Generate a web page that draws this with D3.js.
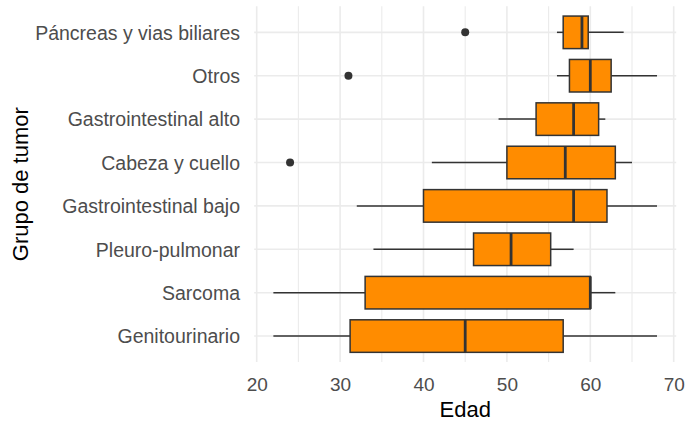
<!DOCTYPE html>
<html>
<head>
<meta charset="utf-8">
<script src="https://cdn.jsdelivr.net/npm/d3@7"></script>
<style>
  html, body { margin: 0; padding: 0; background: #fff; }
  svg { display: block; font-family: "Liberation Sans", Arial, sans-serif; }
</style>
</head>
<body>
<svg id="chart" width="688" height="427"></svg>
<script>
// Tumour groups, listed top to bottom
const groups = [
  "Páncreas y vias biliares",
  "Otros",
  "Gastrointestinal alto",
  "Cabeza y cuello",
  "Gastrointestinal bajo",
  "Pleuro-pulmonar",
  "Sarcoma",
  "Genitourinario"
];
// Box-plot statistics of age per group (same order as groups)
const lowerWhisker = [56, 56, 49, 41, 32, 34, 22, 22];
const q1           = [56.75, 57.5, 53.5, 50, 40, 46, 33, 31.2];
const medianAge    = [59, 60, 58, 57, 58, 50.5, 60, 45];
const q3           = [59.75, 62.5, 61, 63, 62, 55.25, 60, 56.75];
const upperWhisker = [64, 68, 61.8, 65, 68, 58, 63, 68];
// Outlying ages
const outlierGroup = ["Páncreas y vias biliares", "Otros", "Cabeza y cuello"];
const outlierAge   = [45, 31, 24];
// Axis ticks
const majorTicks = [20, 30, 40, 50, 60, 70];
const minorTicks = [25, 35, 45, 55, 65];

const boxes = groups.map((g, i) => ({
  group: g, lo: lowerWhisker[i], q1: q1[i], med: medianAge[i], q3: q3[i], hi: upperWhisker[i]
}));
const outliers = outlierGroup.map((g, i) => ({ group: g, value: outlierAge[i] }));

const svg = d3.select("#chart");
const panel = { left: 254.2, right: 676.2, top: 6.3, bottom: 362.1 };

// x domain: data range expanded by 5% on each side
const allVals = lowerWhisker.concat(upperWhisker, outlierAge);
const lo = d3.min(allVals), hi = d3.max(allVals), pad = (hi - lo) * 0.05;
const x = d3.scaleLinear().domain([lo - pad, hi + pad]).range([panel.left, panel.right]);
const y = d3.scalePoint().domain(groups).range([panel.top, panel.bottom]).padding(0.6);
const boxH = y.step() * 0.75;

const grid = svg.append("g").attr("stroke", "#EBEBEB").attr("fill", "none");
grid.selectAll("line.minor").data(minorTicks).join("line")
  .attr("class", "minor")
  .attr("x1", d => x(d)).attr("x2", d => x(d))
  .attr("y1", panel.top).attr("y2", panel.bottom)
  .attr("stroke-width", 1.1);
grid.selectAll("line.vmajor").data(majorTicks).join("line")
  .attr("class", "vmajor")
  .attr("x1", d => x(d)).attr("x2", d => x(d))
  .attr("y1", panel.top).attr("y2", panel.bottom)
  .attr("stroke-width", 1.6);
grid.selectAll("line.hmajor").data(groups).join("line")
  .attr("class", "hmajor")
  .attr("x1", panel.left).attr("x2", panel.right)
  .attr("y1", d => y(d)).attr("y2", d => y(d))
  .attr("stroke-width", 1.6);

const stroke = "#333333";
const bx = svg.append("g").selectAll("g").data(boxes).join("g");
// whiskers
bx.append("line")
  .attr("x1", d => x(d.lo)).attr("x2", d => x(d.q1))
  .attr("y1", d => y(d.group)).attr("y2", d => y(d.group))
  .attr("stroke", stroke).attr("stroke-width", 1.5);
bx.append("line")
  .attr("x1", d => x(d.q3)).attr("x2", d => x(d.hi))
  .attr("y1", d => y(d.group)).attr("y2", d => y(d.group))
  .attr("stroke", stroke).attr("stroke-width", 1.5);
// boxes
bx.append("rect")
  .attr("x", d => x(d.q1)).attr("width", d => x(d.q3) - x(d.q1))
  .attr("y", d => y(d.group) - boxH / 2).attr("height", boxH)
  .attr("fill", "#FF8C00").attr("stroke", stroke).attr("stroke-width", 1.5);
// medians
bx.append("line")
  .attr("x1", d => x(d.med)).attr("x2", d => x(d.med))
  .attr("y1", d => y(d.group) - boxH / 2).attr("y2", d => y(d.group) + boxH / 2)
  .attr("stroke", stroke).attr("stroke-width", 2.8);

// outliers
svg.append("g").selectAll("circle").data(outliers).join("circle")
  .attr("cx", d => x(d.value)).attr("cy", d => y(d.group))
  .attr("r", 4).attr("fill", stroke);

// axis labels
const axisX = d3.axisBottom(x).tickValues(majorTicks).tickSize(0).tickPadding(0);
const gx = svg.append("g").attr("transform", `translate(0,${panel.bottom})`).call(axisX);
gx.select(".domain").remove();
gx.selectAll("text").attr("y", 28.5).attr("dy", null)
  .attr("fill", "#4D4D4D").style("font-size", "19px").style("font-family", "Liberation Sans, Arial, sans-serif");

const axisY = d3.axisLeft(y).tickSize(0).tickPadding(0);
const gy = svg.append("g").attr("transform", `translate(240,0)`).call(axisY);
gy.select(".domain").remove();
gy.selectAll("text").attr("x", 0).attr("dy", "0.35em")
  .attr("fill", "#4D4D4D").style("font-size", "19.5px").style("font-family", "Liberation Sans, Arial, sans-serif");

// titles
svg.append("text")
  .attr("x", (panel.left + panel.right) / 2).attr("y", 417)
  .attr("text-anchor", "middle").attr("fill", "#000")
  .style("font-size", "22px").text("Edad");
svg.append("text")
  .attr("transform", `translate(28,${(panel.top + panel.bottom) / 2}) rotate(-90)`)
  .attr("text-anchor", "middle").attr("fill", "#000")
  .style("font-size", "22px").text("Grupo de tumor");
</script>
</body>
</html>
